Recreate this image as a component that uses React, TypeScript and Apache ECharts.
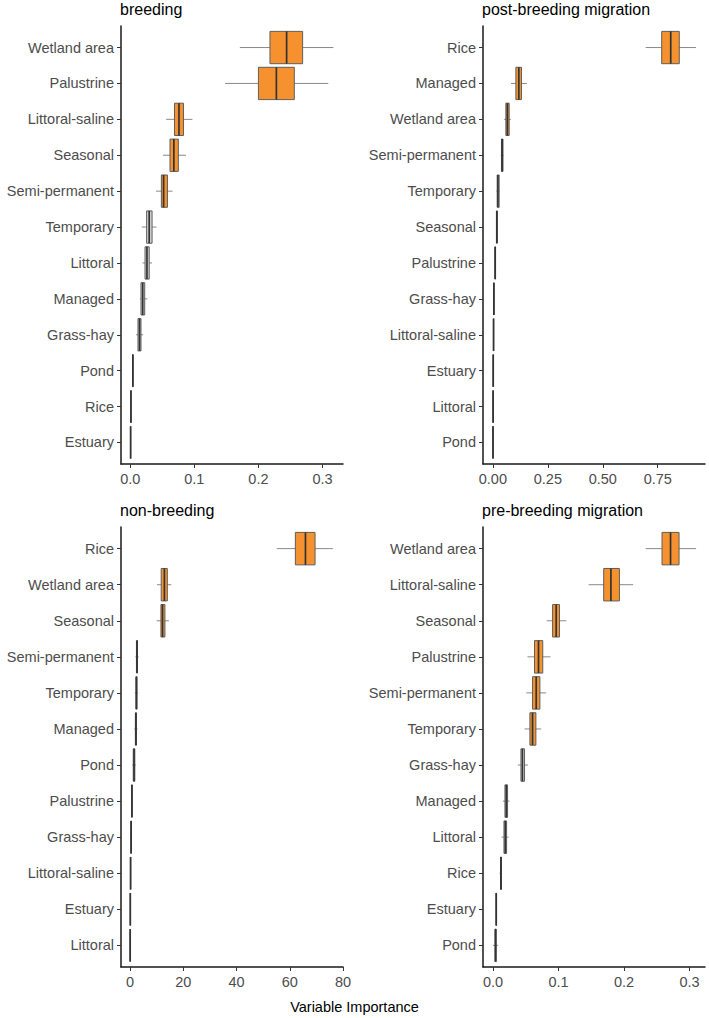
import React, { useEffect, useRef } from "react";
import * as echarts from "echarts";

// ---- data: variable importance summaries [lower whisker, Q1, median, Q3, upper whisker]

const breedingVars = [
  "Wetland area", "Palustrine", "Littoral-saline", "Seasonal", "Semi-permanent", "Temporary",
  "Littoral", "Managed", "Grass-hay", "Pond", "Rice", "Estuary",
];
const breedingStats = [
  [0.171, 0.218, 0.244, 0.269, 0.317],
  [0.148, 0.2, 0.228, 0.256, 0.309],
  [0.056, 0.069, 0.076, 0.083, 0.097],
  [0.051, 0.062, 0.068, 0.075, 0.087],
  [0.04, 0.0485, 0.052, 0.058, 0.066],
  [0.018, 0.0255, 0.0295, 0.034, 0.041],
  [0.019, 0.023, 0.026, 0.0295, 0.034],
  [0.015, 0.0167, 0.0194, 0.0225, 0.0266],
  [0.009, 0.012, 0.0144, 0.0167, 0.02],
  [0.003, 0.0037, 0.004, 0.0043, 0.005],
  [0.0005, 0.0008, 0.001, 0.0012, 0.0015],
  [0.0002, 0.0004, 0.0005, 0.0006, 0.0008],
];
const breedingSig = [1, 1, 1, 1, 1, 0, 0, 0, 0, 0, 0, 0];

const postVars = [
  "Rice", "Managed", "Wetland area", "Semi-permanent", "Temporary", "Seasonal",
  "Palustrine", "Grass-hay", "Littoral-saline", "Estuary", "Littoral", "Pond",
];
const postStats = [
  [0.695, 0.768, 0.809, 0.848, 0.924],
  [0.082, 0.1045, 0.118, 0.13, 0.1545],
  [0.051, 0.059, 0.066, 0.074, 0.082],
  [0.036, 0.039, 0.042, 0.046, 0.049],
  [0.016, 0.0195, 0.023, 0.0285, 0.031],
  [0.014, 0.016, 0.018, 0.02, 0.022],
  [0.008, 0.009, 0.0105, 0.012, 0.013],
  [0.003, 0.004, 0.0045, 0.005, 0.006],
  [0.002, 0.0025, 0.003, 0.0035, 0.004],
  [0.001, 0.0012, 0.0015, 0.0018, 0.002],
  [0.0006, 0.0008, 0.001, 0.0012, 0.0014],
  [0.0002, 0.0004, 0.0005, 0.0006, 0.0008],
];
const postSig = [1, 1, 1, 0, 0, 0, 0, 0, 0, 0, 0, 0];

const nonVars = [
  "Rice", "Wetland area", "Seasonal", "Semi-permanent", "Temporary", "Managed",
  "Pond", "Palustrine", "Grass-hay", "Littoral-saline", "Estuary", "Littoral",
];
const nonStats = [
  [55.1, 62.1, 65.9, 69.5, 76.2],
  [10.1, 11.7, 12.9, 14.0, 15.5],
  [10.0, 11.6, 12.2, 13.1, 14.6],
  [2.0, 2.4, 2.6, 2.8, 3.2],
  [1.8, 2.2, 2.4, 2.6, 3.0],
  [1.6, 2.0, 2.2, 2.4, 2.8],
  [0.8, 1.2, 1.5, 1.8, 2.2],
  [0.4, 0.6, 0.7, 0.8, 1.0],
  [0.2, 0.3, 0.4, 0.5, 0.6],
  [0.1, 0.15, 0.2, 0.25, 0.3],
  [0.03, 0.07, 0.1, 0.13, 0.17],
  [0.01, 0.03, 0.05, 0.07, 0.09],
];
const nonSig = [1, 1, 1, 0, 0, 0, 0, 0, 0, 0, 0, 0];

const preVars = [
  "Wetland area", "Littoral-saline", "Seasonal", "Palustrine", "Semi-permanent", "Temporary",
  "Grass-hay", "Managed", "Littoral", "Rice", "Estuary", "Pond",
];
const preStats = [
  [0.233, 0.258, 0.271, 0.284, 0.31],
  [0.146, 0.169, 0.18, 0.193, 0.214],
  [0.082, 0.091, 0.0965, 0.1015, 0.112],
  [0.0527, 0.0634, 0.0695, 0.076, 0.0878],
  [0.0508, 0.0604, 0.066, 0.0716, 0.0812],
  [0.0482, 0.0564, 0.0604, 0.0655, 0.0736],
  [0.038, 0.0427, 0.045, 0.0482, 0.0534],
  [0.0152, 0.0183, 0.0203, 0.0223, 0.0253],
  [0.0131, 0.0168, 0.0188, 0.0208, 0.0238],
  [0.01, 0.0115, 0.0122, 0.013, 0.0137],
  [0.004, 0.0047, 0.005, 0.0053, 0.006],
  [0.0, 0.003, 0.004, 0.005, 0.008],
];
const preSig = [1, 1, 1, 1, 1, 1, 0, 0, 0, 0, 0, 0];

const breedingTicks = [0, 0.1, 0.2, 0.3];
const postTicks = [0, 0.25, 0.5, 0.75];
const nonTicks = [0, 20, 40, 60, 80];
const preTicks = [0, 0.1, 0.2, 0.3];

// ---- layout / style

const FONT = "'Liberation Sans', Arial, Helvetica, sans-serif";
const ORANGE = "#F5922F";
const GREY_FILL = "#d2d2d2";

const panels = [
  { title: "breeding", vars: breedingVars, stats: breedingStats, sig: breedingSig, ticks: breedingTicks, digits: 1, min: -0.0145, max: 0.332, left: 121, top: 26, height: 438 },
  { title: "post-breeding migration", vars: postVars, stats: postStats, sig: postSig, ticks: postTicks, digits: 2, min: -0.045, max: 0.965, left: 483, top: 26, height: 438 },
  { title: "non-breeding", vars: nonVars, stats: nonStats, sig: nonSig, ticks: nonTicks, digits: 0, min: -3.4, max: 80, left: 121, top: 527, height: 440 },
  { title: "pre-breeding migration", vars: preVars, stats: preStats, sig: preSig, ticks: preTicks, digits: 1, min: -0.0152, max: 0.3236, left: 483, top: 527, height: 440 },
];
const PANEL_W = 222;

function renderBox(params: any, api: any) {
  const idx = api.value(0);
  const lo = api.value(1);
  const q1 = api.value(2);
  const med = api.value(3);
  const q3 = api.value(4);
  const hi = api.value(5);
  const sig = api.value(6);
  const unit = api.size([0, 1])[1];
  const half = unit * 0.45;
  const pLo = api.coord([lo, idx]);
  const pQ1 = api.coord([q1, idx]);
  const pMed = api.coord([med, idx]);
  const pQ3 = api.coord([q3, idx]);
  const pHi = api.coord([hi, idx]);
  const y = pMed[1];
  return {
    type: "group",
    children: [
      {
        type: "line",
        shape: { x1: pLo[0], y1: y, x2: pHi[0], y2: y },
        style: { stroke: "#8a8a8a", lineWidth: 1 },
      },
      {
        type: "rect",
        shape: { x: pQ1[0], y: y - half, width: Math.max(pQ3[0] - pQ1[0], 0.01), height: half * 2 },
        style: { fill: sig ? ORANGE : GREY_FILL, stroke: "#5e5e5e", lineWidth: 1 },
      },
      {
        type: "line",
        shape: { x1: pMed[0], y1: y - half, x2: pMed[0], y2: y + half },
        style: { stroke: "#333333", lineWidth: 1.7 },
      },
    ],
  };
}

export default function App() {
  const ref = useRef<HTMLDivElement>(null);

  useEffect(() => {
    if (!ref.current) return;
    const chart = echarts.init(ref.current, null, { renderer: "svg" });

    const grid = panels.map((p) => ({
      left: p.left,
      top: p.top,
      width: PANEL_W,
      height: p.height,
      containLabel: false,
    }));

    const xAxis = panels.map((p, i) => ({
      type: "value",
      gridIndex: i,
      min: p.min,
      max: p.max,
      splitLine: { show: false },
      axisLine: { show: true, onZero: false, lineStyle: { color: "#1a1a1a", width: 1.5 } },
      axisTick: { show: true, length: 4, customValues: p.ticks, lineStyle: { color: "#333", width: 1 } },
      axisLabel: {
        customValues: p.ticks,
        margin: 7,
        color: "#4d4d4d",
        fontSize: 14.5,
        fontFamily: FONT,
        formatter: (v: number) => v.toFixed(p.digits),
      },
    }));

    const catIdx = breedingVars.map((_, k) => k);
    const yAxis = panels.map((p, i) => ({
      type: "value",
      gridIndex: i,
      inverse: true,
      min: -0.6,
      max: 11.6,
      splitLine: { show: false },
      axisLine: { show: true, onZero: false, lineStyle: { color: "#1a1a1a", width: 1.5 } },
      axisTick: { show: true, length: 4, customValues: catIdx, lineStyle: { color: "#333", width: 1 } },
      axisLabel: {
        customValues: catIdx,
        margin: 7,
        color: "#4d4d4d",
        fontSize: 14.5,
        fontFamily: FONT,
        formatter: (v: number) => p.vars[Math.round(v)] ?? "",
      },
    }));

    const series = panels.map((p, i) => ({
      type: "custom",
      xAxisIndex: i,
      yAxisIndex: i,
      clip: false,
      renderItem: renderBox,
      encode: { x: [1, 2, 3, 4, 5], y: 0 },
      data: p.stats.map((s, k) => [k, ...s, p.sig[k]]),
    }));

    // panel titles, drawn as plain text so the weight stays regular
    const titles = panels.map((p) => ({
      type: "text",
      left: p.left - 1,
      top: p.top - 25,
      style: { text: p.title, fontSize: 16, fontWeight: 400, fill: "#000", fontFamily: FONT },
    }));

    chart.setOption({
      animation: false,
      backgroundColor: "#ffffff",
      grid,
      xAxis,
      yAxis,
      series,
      graphic: [
        ...titles,
        {
          type: "text",
          left: "center",
          top: 999,
          style: { text: "Variable Importance", fontSize: 14.5, fontWeight: 400, fontFamily: FONT, fill: "#000" },
        },
      ],
    });

    return () => chart.dispose();
  }, []);

  return (
    <div
      ref={ref}
      style={{ position: "fixed", left: 0, top: 0, width: 709, height: 1018, background: "#fff" }}
    />
  );
}
